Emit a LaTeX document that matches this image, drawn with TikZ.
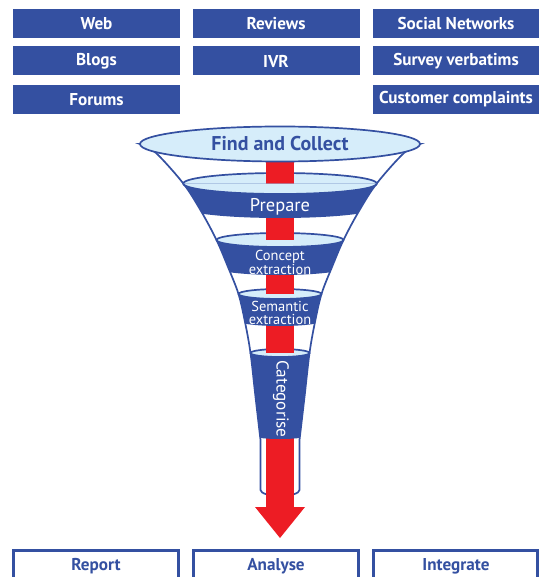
\documentclass[tikz,border=0pt]{standalone}
\usepackage{fontspec}
\setmainfont{PT Sans}
\definecolor{fblue}{RGB}{52,80,161}
\definecolor{lblue}{RGB}{214,237,250}
\definecolor{fred}{RGB}{237,28,36}
\tikzset{
  srcbox/.style={fill=fblue, text=white, font=\bfseries\fontsize{17.2}{19}\selectfont, minimum width=167bp, minimum height=29bp, inner sep=0pt},
  outbox/.style={draw=fblue, line width=2.5bp, fill=white},
  outtext/.style={text=fblue, font=\bfseries\fontsize{17.2}{19}\selectfont, inner sep=0pt},
  funnelline/.style={draw=fblue, line width=1.7bp},
  ell/.style={fill=lblue, draw=fblue, line width=1.7bp},
  bandtext/.style={text=white, inner sep=0pt, align=center},
}
\def\funnelpath{plot[smooth, tension=0.55] coordinates {(140,144) (156,153) (183.3,183.5) (201,211) (216.5,240) (228,267) (238.5,294) (245,322) (250.5,353) (255.5,397) (260.5,440)} -- (260.5,490) arc[start angle=180, end angle=0, x radius=19.5, y radius=6] -- plot[smooth, tension=0.55] coordinates {(299.5,440) (304.5,397) (309.5,353) (315,322) (321.5,294) (332,267) (343.5,240) (359,211) (376.7,183.5) (404,153) (420,144)} -- cycle}
\newcommand{\bandlevel}[4]{% cy, rx, ry, d
  \fill[fblue] (80,#1) -- (480,#1) -- (480,#1+#4) -- (280+#2,#1+#4) arc[start angle=0, end angle=180, x radius=#2, y radius=#3] -- (80,#1+#4) -- cycle;
}
\newcommand{\lowerhalf}[3]{% cy, rx, ry
  \fill[lblue] (280-#2,#1) arc[start angle=180, end angle=0, x radius=#2, y radius=#3] -- cycle;
  \draw[fblue, line width=1.7bp] (280-#2,#1) arc[start angle=180, end angle=0, x radius=#2, y radius=#3];
}
\begin{document}
\begin{tikzpicture}[x=1bp,y=-1bp]
\useasboundingbox (0,0) rectangle (539,577);
\clip (0,0) rectangle (539,577);

% source boxes
\node[srcbox] (web) at (96.5,24) {Web};
\node[srcbox] (reviews) at (276,24) {Reviews};
\node[srcbox] (social) at (456,24) {Social Networks};
\node[srcbox] (blogs) at (96.5,61) {Blogs};
\node[srcbox] (ivr) at (276,61) {IVR};
\node[srcbox] (survey) at (456,61) {Survey verbatims};
\node[srcbox] (forums) at (96.5,99.5) {Forums};
\node[srcbox] (complaints) at (456,99.5) {Customer complaints};

% funnel body
\path[fill=white, funnelline] \funnelpath;

% full ellipses of inner levels
\path[ell] (280,183.5) ellipse[x radius=96.7, y radius=10.5];
\path[ell] (280,240) ellipse[x radius=63.5, y radius=7];
\path[ell] (280,294) ellipse[x radius=41.5, y radius=5];
\path[ell] (280,353) ellipse[x radius=29.5, y radius=4];

% red arrow
\fill[fred] (265.7,150) rectangle (294.3,507.5);
\fill[fred] (255,507) -- (305,507) -- (280,538) -- cycle;

% bands
\begin{scope}
\clip \funnelpath;
\bandlevel{183.5}{96.7}{10.5}{24}
\bandlevel{240}{63.5}{7}{28}
\bandlevel{294}{41.5}{5}{27}
\bandlevel{353}{29.5}{4}{82}
\end{scope}
\lowerhalf{183.5}{96.7}{10.5}
\lowerhalf{240}{63.5}{7}
\lowerhalf{294}{41.5}{5}
\lowerhalf{353}{29.5}{4}

% top ellipse
\path[ell] (280,144) ellipse[x radius=140, y radius=17.5];
\node[text=fblue, font=\bfseries\fontsize{20}{22}\selectfont, inner sep=0pt] (find) at (280,144) {Find and Collect};

% band labels
\node[bandtext, font=\fontsize{18.5}{19}\selectfont] (prepare) at (280,206.5) {Prepare};
\node[bandtext, font=\fontsize{14.5}{13}\selectfont] (concept) at (280,262) {Concept\\extraction};
\node[bandtext, font=\fontsize{14.5}{13}\selectfont] (semantic) at (280,313) {Semantic\\extraction};
\node[bandtext, font=\fontsize{17.3}{18}\selectfont, rotate=-90] (categorise) at (281,399) {Categorise};

% output boxes
\draw[outbox] (13.5,550.5) rectangle (178.5,600);
\draw[outbox] (193.5,550.5) rectangle (358.5,600);
\draw[outbox] (373.5,550.5) rectangle (537.5,600);
\node[outtext] (report) at (96,566) {Report};
\node[outtext] (analyse) at (276,566) {Analyse};
\node[outtext] (integrate) at (456,566) {Integrate};
\end{tikzpicture}
\end{document}
